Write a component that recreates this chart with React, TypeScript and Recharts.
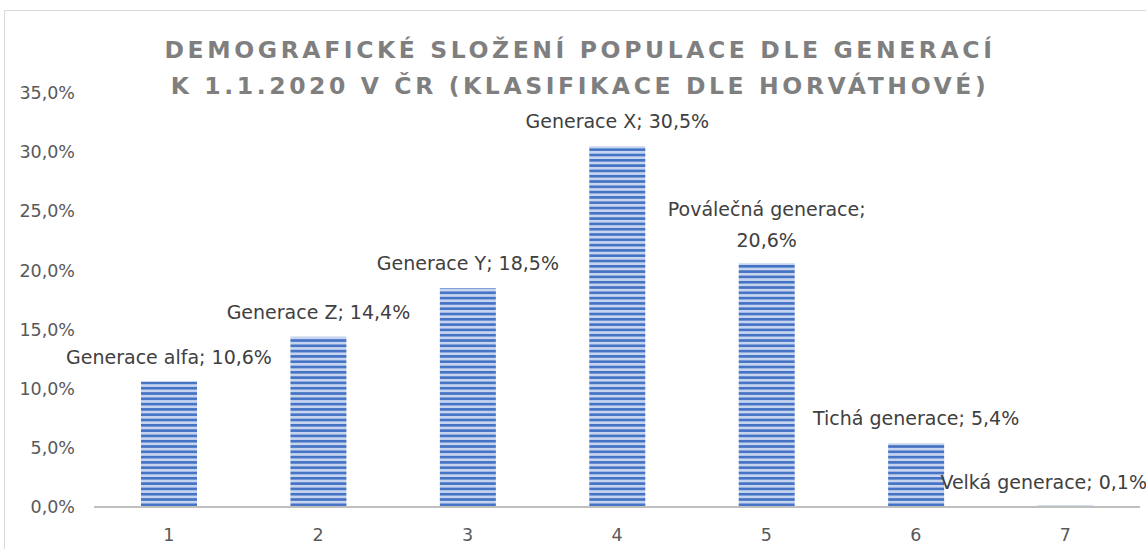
import React from "react";
import { BarChart, Bar, XAxis, YAxis, LabelList } from "recharts";

const categories = ["1", "2", "3", "4", "5", "6", "7"];
const generations = [
  "Generace alfa",
  "Generace Z",
  "Generace Y",
  "Generace X",
  "Poválečná generace",
  "Tichá generace",
  "Velká generace",
];
const shares = [10.6, 14.4, 18.5, 30.5, 20.6, 5.4, 0.1];
const yTicks = [0, 5, 10, 15, 20, 25, 30, 35];

const data = categories.map((c, i) => ({ cat: c, name: generations[i], value: shares[i] }));

const pct = (v: number) => v.toFixed(1).replace(".", ",") + "%";
const FONT = "'DejaVu Sans', sans-serif";
const W = 1146;

const BarLabel = (props: any) => {
  const { x, y, width, index } = props;
  const d = data[index];
  const text = `${d.name}; ${pct(d.value)}`;
  const cx = x + width / 2;
  const approx = text.length * 10.8;
  if (text.length > 22) {
    return (
      <text x={cx} y={y - 47} textAnchor="middle" fill="#404040" fontSize={19} fontFamily={FONT}>
        <tspan x={cx} dy={0}>{d.name};</tspan>
        <tspan x={cx} dy={31}>{pct(d.value)}</tspan>
      </text>
    );
  }
  const right = cx + approx / 2;
  if (right > W) {
    return (
      <text x={W + 1} y={y - 17} textAnchor="end" fill="#404040" fontSize={19} fontFamily={FONT}>
        {text}
      </text>
    );
  }
  return (
    <text x={cx} y={y - 18} textAnchor="middle" fill="#404040" fontSize={19} fontFamily={FONT}>
      {text}
    </text>
  );
};

export default function App() {
  return (
    <div style={{ position: "fixed", left: 0, top: 0, width: W, height: 549, overflow: "hidden", background: "#fff" }}>
      <div style={{ position: "absolute", left: 4, top: 10, width: 1300, height: 700, border: "1px solid #d9d9d9" }} />
      <div
        style={{
          position: "absolute",
          left: 0,
          top: 32,
          width: 1160,
          textAlign: "center",
          fontFamily: FONT,
          fontWeight: 700,
          fontSize: 23.5,
          letterSpacing: 3.6,
          lineHeight: "36px",
          color: "#7f7f7f",
        }}
      >
        DEMOGRAFICKÉ SLOŽENÍ POPULACE DLE GENERACÍ
        <br />
        K 1.1.2020 V ČR (KLASIFIKACE DLE HORVÁTHOVÉ)
      </div>
      <div style={{ position: "absolute", left: 0, top: 0 }}>
        <BarChart width={W} height={549} data={data} margin={{ top: 93, right: 6, bottom: 12, left: 0 }}>
          <defs>
            <pattern id="stripes" width="8" height="5.3" patternUnits="userSpaceOnUse">
              <rect width="8" height="5.3" fill="#c6d4ef" />
              <rect y="0" width="8" height="2.6" fill="#4472c4" />
            </pattern>
          </defs>
          <YAxis
            domain={[0, 35]}
            ticks={yTicks}
            tickFormatter={pct}
            width={94}
            axisLine={false}
            tickLine={false}
            tickMargin={13}
            tick={{ fill: "#595959", fontSize: 17.5, fontFamily: FONT }}
          />
          <XAxis
            dataKey="cat"
            height={30}
            axisLine={{ stroke: "#bfbfbf", strokeWidth: 2 }}
            tickLine={false}
            tickMargin={16}
            tick={{ fill: "#595959", fontSize: 17.5, fontFamily: FONT }}
          />
          <Bar dataKey="value" fill="url(#stripes)" barSize={56} isAnimationActive={false}>
            <LabelList dataKey="value" content={<BarLabel />} />
          </Bar>
        </BarChart>
      </div>
    </div>
  );
}
